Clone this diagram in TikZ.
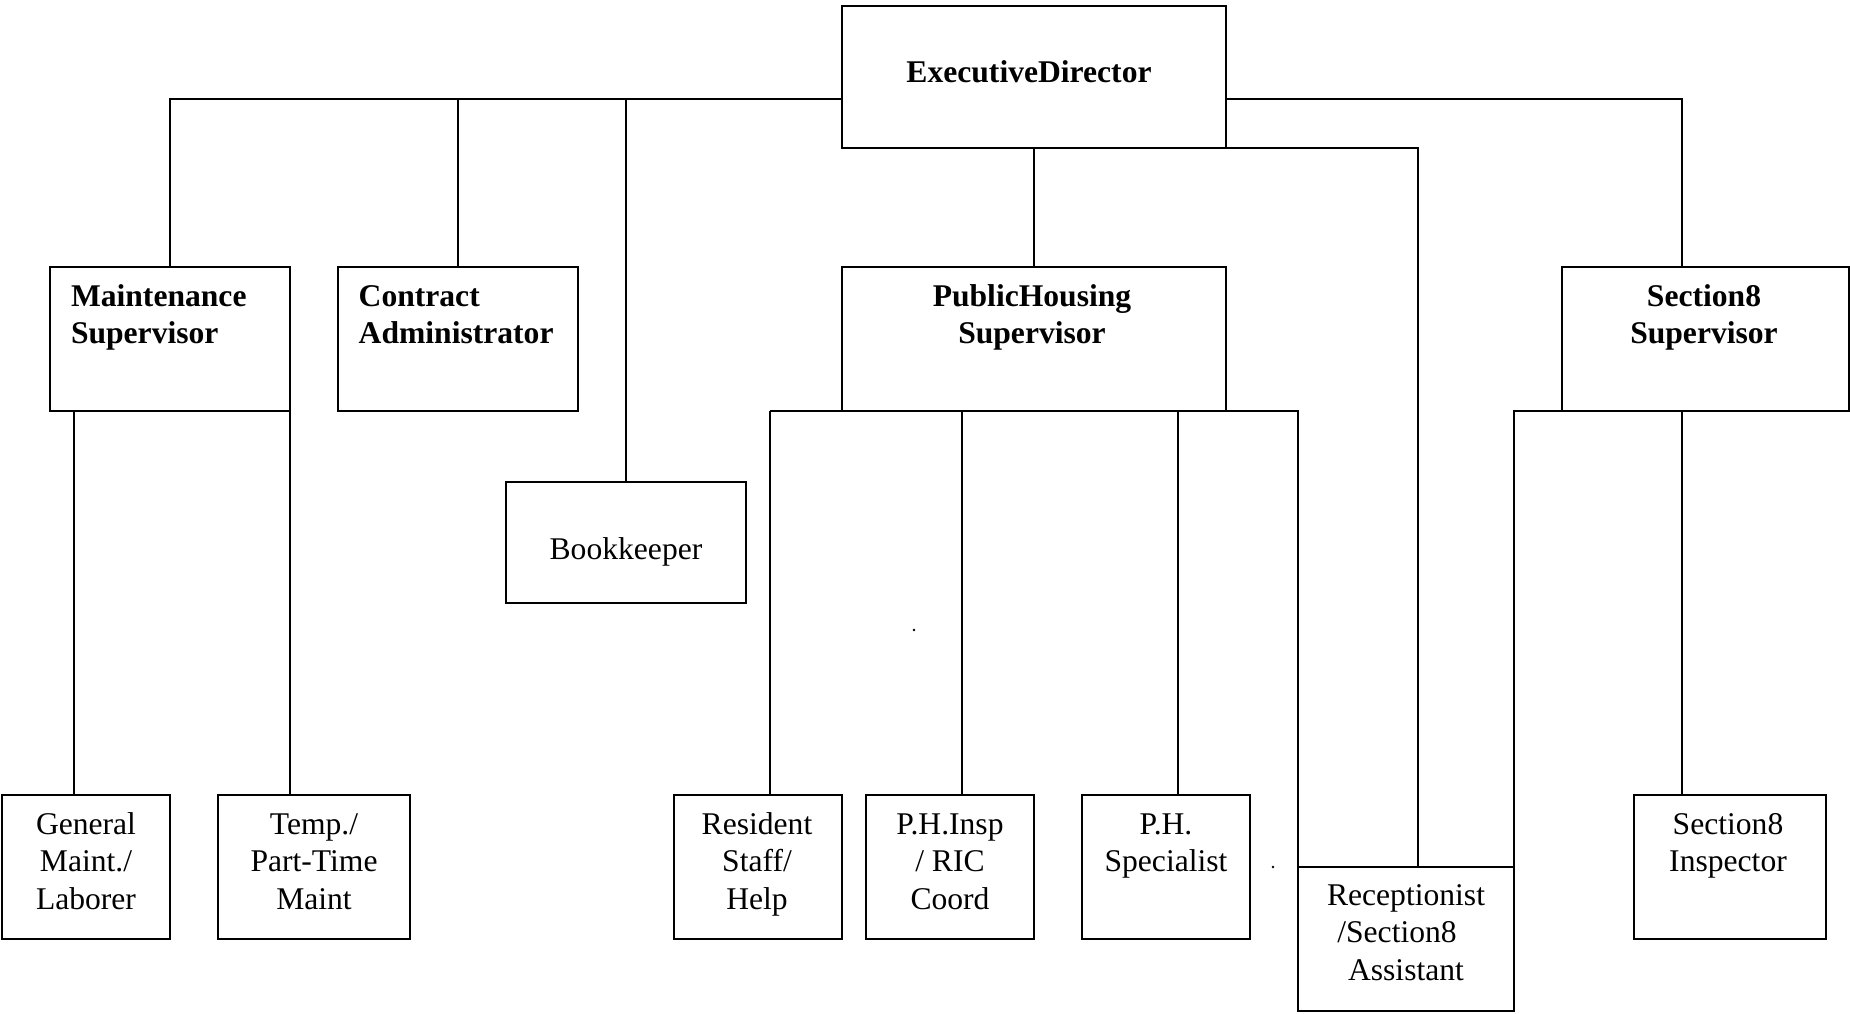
\documentclass[tikz,border=0pt]{standalone}
\usepackage{fontspec}
\setmainfont{Liberation Serif}
\begin{document}
\begin{tikzpicture}[x=0.5pt,y=-0.5pt,
  orgbox/.style={draw, line width=1pt, rectangle, inner sep=0pt, outer sep=0pt},
  conn/.style={line width=0.8pt},
  lbl/.style={inner sep=0pt, outer sep=0pt, font=\fontsize{15.8pt}{18.8pt}\selectfont, align=center},
  lblb/.style={lbl, font=\fontsize{15.8pt}{18.8pt}\selectfont\bfseries},
  dotmark/.style={circle, fill, inner sep=0pt, minimum size=1.3pt}]
\useasboundingbox (0,0) rectangle (1850,1013);

% boxes
\node[orgbox, minimum width=192pt, minimum height=71pt] (ed) at (1034,77) {};
\node[orgbox, minimum width=120pt, minimum height=72pt] (ms) at (170,339) {};
\node[orgbox, minimum width=120pt, minimum height=72pt] (ca) at (458,339) {};
\node[orgbox, minimum width=192pt, minimum height=72pt] (ph) at (1034,339) {};
\node[orgbox, minimum width=143.5pt, minimum height=72pt] (s8) at (1705.5,339) {};
\node[orgbox, minimum width=120pt, minimum height=60.5pt] (bk) at (626,542.5) {};
\node[orgbox, minimum width=84pt, minimum height=72pt] (gm) at (86,867) {};
\node[orgbox, minimum width=96pt, minimum height=72pt] (tp) at (314,867) {};
\node[orgbox, minimum width=84pt, minimum height=72pt] (rs) at (758,867) {};
\node[orgbox, minimum width=84pt, minimum height=72pt] (pi) at (950,867) {};
\node[orgbox, minimum width=84pt, minimum height=72pt] (ps) at (1166,867) {};
\node[orgbox, minimum width=96pt, minimum height=72pt] (si) at (1730,867) {};
\node[orgbox, minimum width=108pt, minimum height=72pt] (rc) at (1406,939) {};

% helper coordinates
\coordinate (bus) at (0,99);
\coordinate (s8drop) at (1682,0);
\coordinate (rcdrop) at (1418,0);
\coordinate (msdrop) at (74,0);
\coordinate (phA) at (770,0);
\coordinate (phB) at (962,0);
\coordinate (phC) at (1178,0);

% connectors
\draw[conn] (ed.west |- bus) -| (ms.north);
\draw[conn] (ca.north) -- (ca.north |- bus);
\draw[conn] (bk.north) -- (bk.north |- bus);
\draw[conn] (ed.east |- bus) -| (s8drop |- s8.north);
\draw[conn] (ed.south east) -| (rcdrop |- rc.north);
\draw[conn] (ed.south) -- (ph.north);
\draw[conn] (msdrop |- ms.south) -- (msdrop |- gm.north);
\draw[conn] (ms.south east) -- (ms.south east |- tp.north);
\draw[conn] (phA |- ph.south) -- (rc.west |- ph.south) -- (rc.north west);
\draw[conn] (phA |- ph.south) -- (phA |- rs.north);
\draw[conn] (phB |- ph.south) -- (phB |- pi.north);
\draw[conn] (phC |- ph.south) -- (phC |- ps.north);
\draw[conn] (s8.south west) -| (rc.north east);
\draw[conn] (s8drop |- s8.south) -- (s8drop |- si.north);

% texts
\node[lblb, anchor=base] (ed-t) at (1029,82) {ExecutiveDirector};
\node[lblb, align=left, anchor=north west] (ms-t) at (71,279.7) {\strut Maintenance\\Supervisor};
\node[lblb, align=left, anchor=north west] (ca-t) at (358.7,279.7) {\strut Contract\\Administrator};
\node[lblb, anchor=north] (ph-t) at (1032,279.7) {\strut PublicHousing\\Supervisor};
\node[lblb, anchor=north] (s8-t) at (1704,279.7) {\strut Section8\\Supervisor};
\node[lbl, anchor=base] (bk-t) at (626,559) {Bookkeeper};
\node[lbl, anchor=north] (gm-t) at (86,807.7) {\strut General\\Maint./\\Laborer};
\node[lbl, anchor=north] (tp-t) at (314,807.7) {\strut Temp./\\Part-Time\\Maint};
\node[lbl, anchor=north] (rs-t) at (757,807.7) {\strut Resident\\Staff/\\Help};
\node[lbl, anchor=north] (pi-t) at (950,807.7) {\strut P.H.Insp\\/ RIC\\Coord};
\node[lbl, anchor=north] (ps-t) at (1166,807.7) {\strut P.H.\\Specialist};
\node[lbl, anchor=north] (si-t) at (1728,807.7) {\strut Section8\\Inspector};
\node[lbl, anchor=north] (rc-t) at (1406,878.7) {\strut Receptionist\\/Section8\rule{9pt}{0pt}\\Assistant};

% stray dots
\node[dotmark] (dot1) at (914,630) {};
\node[dotmark] (dot2) at (1273,867) {};
\end{tikzpicture}
\end{document}
